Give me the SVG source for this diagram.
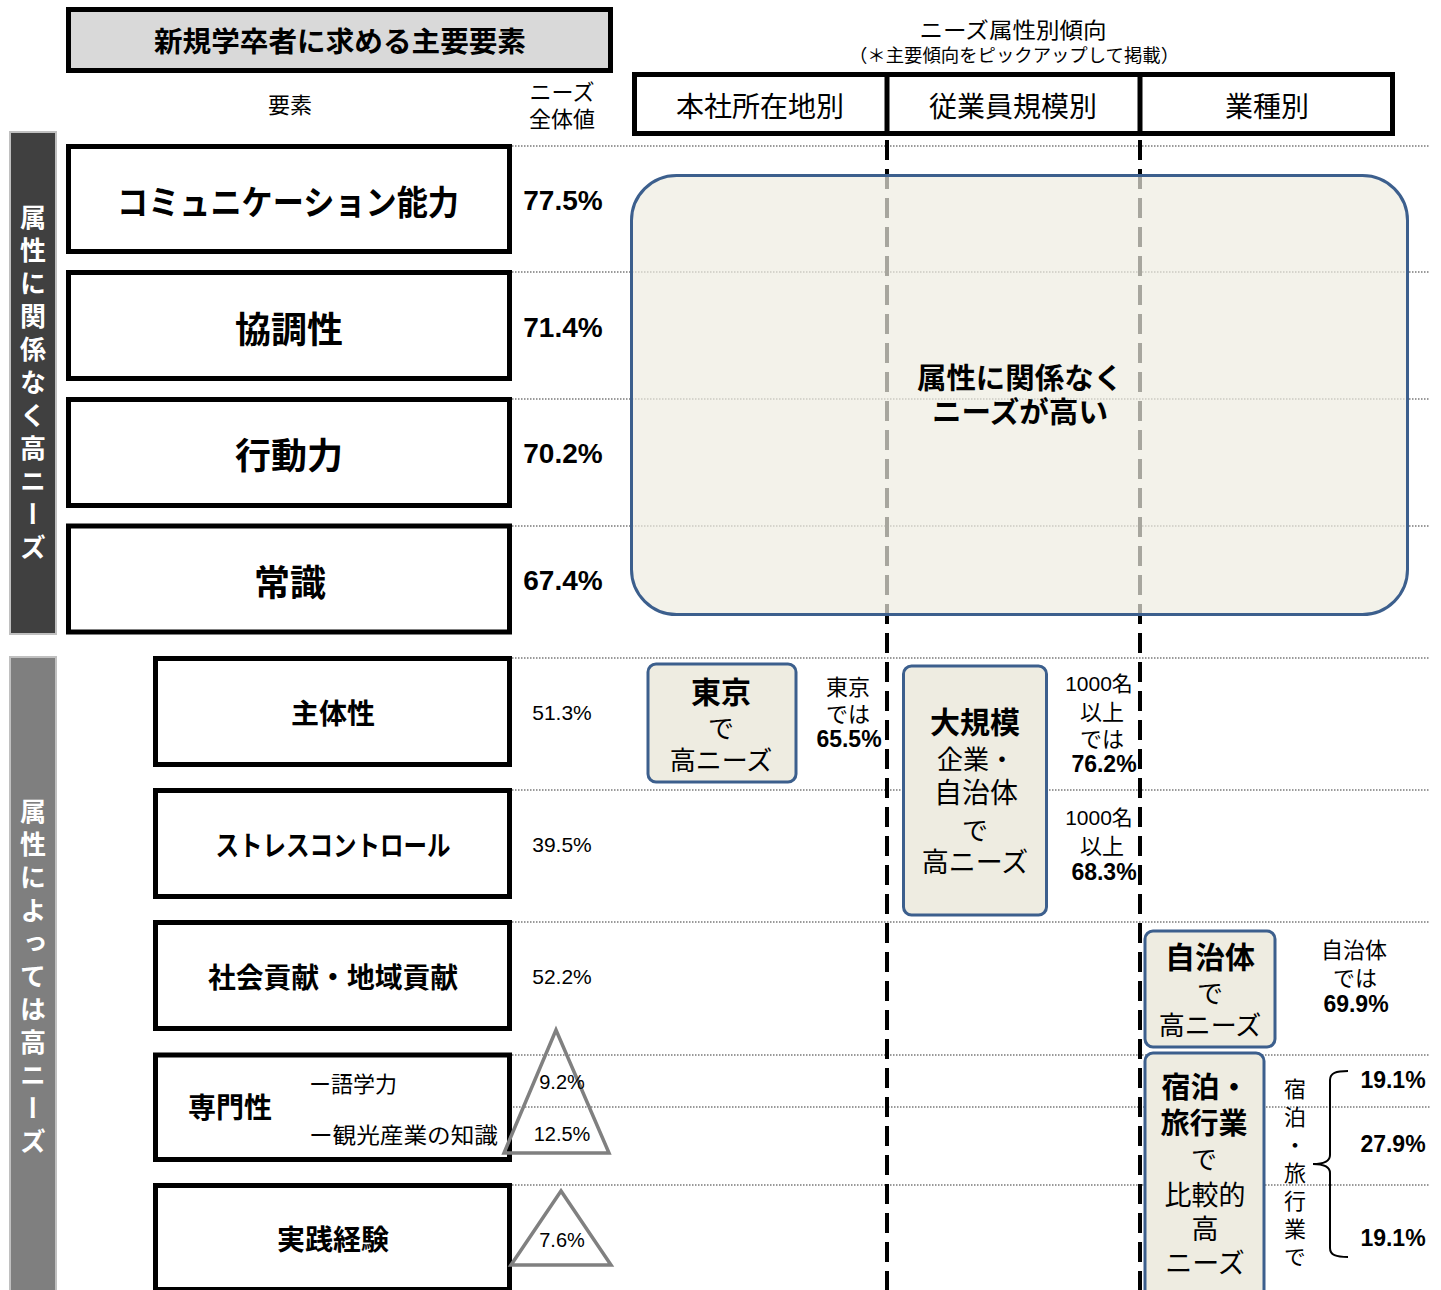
<svg xmlns="http://www.w3.org/2000/svg" width="1441" height="1290" viewBox="0 0 1441 1290">
<style>
.jp{font-family:"Noto Sans CJK JP","Noto Sans CJK SC",sans-serif;fill:#000}
.b{font-weight:700}
.num{font-family:"Liberation Sans","Noto Sans CJK JP",sans-serif;fill:#000}
.c{text-anchor:middle;dominant-baseline:central}
.box{fill:#fff;stroke:#000;stroke-width:5}
.dot{stroke:#9a9a9a;stroke-width:2;stroke-dasharray:1.5 1.5;fill:none}
.dash{stroke:#000;stroke-width:4;stroke-dasharray:20 9;fill:none}
.tag{fill:#eeece1;stroke:#3c5f8d;stroke-width:3}
.tri{fill:none;stroke:#808080;stroke-width:3.5;stroke-linejoin:miter}
.vt{writing-mode:vertical-rl;text-anchor:middle}
</style>

<!-- header -->
<g id="title">
<rect x="68.5" y="9.5" width="542" height="61" fill="#d9d9d9" stroke="#000" stroke-width="5"/>
<text class="jp b c" x="340" y="40" font-size="28" textLength="372" lengthAdjust="spacingAndGlyphs">新規学卒者に求める主要要素</text>
</g>
<g id="col-labels">
<text class="jp c" x="290" y="103" font-size="22">要素</text>
<text class="jp c" x="562" y="90" font-size="22">ニーズ</text>
<text class="jp c" x="562" y="117" font-size="22">全体値</text>
<text class="jp c" x="1013" y="28" font-size="22" textLength="187" lengthAdjust="spacingAndGlyphs">ニーズ属性別傾向</text>
<text class="jp c" x="1014" y="54" font-size="18" textLength="330" lengthAdjust="spacingAndGlyphs">（＊主要傾向をピックアップして掲載）</text>
</g>
<g id="attr-header">
<rect x="634.5" y="74.5" width="758" height="59" fill="#fff" stroke="#000" stroke-width="5"/>
<line x1="887" y1="74" x2="887" y2="134" stroke="#000" stroke-width="5"/>
<line x1="1140" y1="74" x2="1140" y2="134" stroke="#000" stroke-width="5"/>
<text class="jp c" x="760" y="105" font-size="28">本社所在地別</text>
<text class="jp c" x="1013" y="105" font-size="28">従業員規模別</text>
<text class="jp c" x="1267" y="105" font-size="28">業種別</text>
</g>

<!-- side bars -->
<g id="bar-common">
<rect x="10" y="132" width="46" height="502" fill="#404040" stroke="#c0c0c0" stroke-width="2"/>
<text class="jp b vt" x="33" y="386" font-size="26" style="fill:#fff;letter-spacing:7px">属性に関係なく高ニーズ</text>
</g>
<g id="bar-partial">
<rect x="10" y="657" width="46" height="640" fill="#7f7f7f" stroke="#c0c0c0" stroke-width="2"/>
<text class="jp b vt" x="33" y="980" font-size="26" style="fill:#fff;letter-spacing:7px">属性によっては高ニーズ</text>
</g>

<!-- connectors / grid lines -->
<g id="connectors">
<path class="dot" d="M512 146H1430M512 272H1430M512 399H1430M512 526H1430M512 658H1430M512 790H1430M512 922H1430M512 1055H1430M303 1107H1430M512 1185H1430"/>
<path class="dot" d="M302 1057V1160"/>
<path class="dash" d="M887 140V1290M1140 140V1290"/>
</g>

<!-- common-need boxes -->
<g id="n-comm"><rect class="box" x="68.5" y="146.5" width="441" height="105"/>
<text class="jp b c" x="288" y="200" font-size="34" textLength="342" lengthAdjust="spacingAndGlyphs">コミュニケーション能力</text>
<text class="num b c" x="563" y="200" font-size="28">77.5%</text></g>
<g id="n-kyocho"><rect class="box" x="68.5" y="272.5" width="441" height="106"/>
<text class="jp b c" x="289" y="327" font-size="36">協調性</text>
<text class="num b c" x="563" y="327" font-size="28">71.4%</text></g>
<g id="n-kodo"><rect class="box" x="68.5" y="399.5" width="441" height="106"/>
<text class="jp b c" x="289" y="453" font-size="36">行動力</text>
<text class="num b c" x="563" y="453" font-size="28">70.2%</text></g>
<g id="n-joshiki"><rect class="box" x="68.5" y="526" width="441" height="106"/>
<text class="jp b c" x="290" y="580" font-size="36">常識</text>
<text class="num b c" x="563" y="580" font-size="28">67.4%</text></g>

<!-- partial-need boxes -->
<g id="n-shutai"><rect class="box" x="155.5" y="658.5" width="354" height="106"/>
<text class="jp b c" x="333" y="712" font-size="28">主体性</text>
<text class="num c" x="562" y="712" font-size="21">51.3%</text></g>
<g id="n-stress"><rect class="box" x="155.5" y="790.5" width="354" height="106"/>
<text class="jp b c" x="333" y="844" font-size="28" textLength="235" lengthAdjust="spacingAndGlyphs">ストレスコントロール</text>
<text class="num c" x="562" y="844" font-size="21">39.5%</text></g>
<g id="n-shakai"><rect class="box" x="155.5" y="922.5" width="354" height="106"/>
<text class="jp b c" x="333" y="976" font-size="28" textLength="250" lengthAdjust="spacingAndGlyphs">社会貢献・地域貢献</text>
<text class="num c" x="562" y="976" font-size="21">52.2%</text></g>
<g id="n-senmon"><rect class="box" x="155.5" y="1055" width="354" height="104.5"/>
<text class="jp b c" x="230" y="1106" font-size="28">専門性</text>
<text class="jp" x="309" y="1082" font-size="22" dominant-baseline="central">ー語学力</text>
<text class="jp" x="309" y="1133" font-size="22" dominant-baseline="central" textLength="189" lengthAdjust="spacingAndGlyphs">ー観光産業の知識</text>
<polygon class="tri" points="556,1030 504,1153 609,1153"/>
<text class="num c" x="562" y="1082" font-size="20">9.2%</text>
<text class="num c" x="562" y="1134" font-size="20">12.5%</text></g>
<g id="n-jissen"><rect class="box" x="155.5" y="1185.5" width="354" height="104"/>
<text class="jp b c" x="333" y="1238" font-size="28">実践経験</text>
<polygon class="tri" points="561,1191 511,1265 611,1265"/>
<text class="num c" x="562" y="1240" font-size="20">7.6%</text></g>

<!-- common trend area -->
<g id="common-area">
<rect x="631.5" y="175.5" width="776" height="439" rx="45" fill="#eeece1" fill-opacity="0.7" stroke="#3c5f8d" stroke-width="3"/>
<text class="jp b c" x="1020" y="376" font-size="29" textLength="206" lengthAdjust="spacingAndGlyphs">属性に関係なく</text>
<text class="jp b c" x="1020" y="410" font-size="29" textLength="176" lengthAdjust="spacingAndGlyphs">ニーズが高い</text>
</g>

<!-- trend tags -->
<g id="t-tokyo">
<rect class="tag" x="648" y="664" width="148" height="118" rx="8"/>
<text class="jp b c" x="721" y="690" font-size="30">東京</text>
<text class="jp c" x="721" y="726" font-size="26">で</text>
<text class="jp c" x="721" y="758" font-size="26">高ニーズ</text>
<text class="jp c" x="848" y="685" font-size="22">東京</text>
<text class="jp c" x="848" y="712" font-size="22">では</text>
<text class="num b c" x="849" y="739" font-size="23">65.5%</text>
</g>
<g id="t-large">
<rect class="tag" x="903.5" y="666" width="143" height="249" rx="8"/>
<text class="jp b c" x="975" y="720" font-size="30">大規模</text>
<text class="jp c" x="976" y="757" font-size="26">企業・</text>
<text class="jp c" x="976" y="791" font-size="28">自治体</text>
<text class="jp c" x="975" y="828" font-size="26">で</text>
<text class="jp c" x="975" y="860" font-size="27">高ニーズ</text>
<text class="num c" x="1099" y="683" font-size="21">1000名</text>
<text class="jp c" x="1102" y="710" font-size="22">以上</text>
<text class="jp c" x="1102" y="737" font-size="22">では</text>
<text class="num b c" x="1104" y="764" font-size="23">76.2%</text>
<text class="num c" x="1099" y="817" font-size="21">1000名</text>
<text class="jp c" x="1102" y="844" font-size="22">以上</text>
<text class="num b c" x="1104" y="872" font-size="23">68.3%</text>
</g>
<g id="t-jichitai">
<rect class="tag" x="1145" y="931" width="130" height="116" rx="8"/>
<text class="jp b c" x="1210" y="955" font-size="30">自治体</text>
<text class="jp c" x="1210" y="991" font-size="26">で</text>
<text class="jp c" x="1210" y="1023" font-size="26">高ニーズ</text>
<text class="jp c" x="1354" y="948" font-size="22">自治体</text>
<text class="jp c" x="1355" y="976" font-size="22">では</text>
<text class="num b c" x="1356" y="1004" font-size="23">69.9%</text>
</g>
<g id="t-shukuhaku">
<rect class="tag" x="1145" y="1053" width="119" height="250" rx="8"/>
<text class="jp b c" x="1205" y="1085" font-size="29">宿泊・</text>
<text class="jp b c" x="1204" y="1121" font-size="29">旅行業</text>
<text class="jp c" x="1204" y="1157" font-size="26">で</text>
<text class="jp c" x="1205" y="1193" font-size="27">比較的</text>
<text class="jp c" x="1205" y="1227" font-size="27">高</text>
<text class="jp c" x="1205" y="1261" font-size="27">ニーズ</text>
<text class="jp vt" x="1295" y="1176" font-size="22" style="letter-spacing:6px">宿泊・旅行業で</text>
<path d="M1348 1071C1336 1071 1330 1073 1330 1080V1155C1330 1161 1325 1164 1313 1164C1325 1164 1330 1167 1330 1173V1248C1330 1255 1336 1257 1348 1257" fill="none" stroke="#000" stroke-width="2"/>
<text class="num b c" x="1393" y="1080" font-size="23">19.1%</text>
<text class="num b c" x="1393" y="1144" font-size="23">27.9%</text>
<text class="num b c" x="1393" y="1238" font-size="23">19.1%</text>
</g>
</svg>
